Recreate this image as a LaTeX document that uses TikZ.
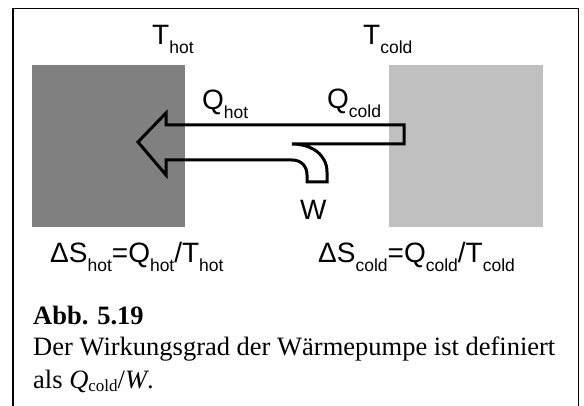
\documentclass[tikz,border=0pt]{standalone}
\usepackage{fontspec}
\setmainfont{Liberation Serif}
\newfontfamily\arialf{Liberation Sans}
\newcommand{\bigtxt}{\arialf\fontsize{28}{28}\selectfont}
\newcommand{\lowsub}[1]{\raisebox{-9pt}{\arialf\fontsize{17.5}{17.5}\selectfont #1}}
\begin{document}
\begin{tikzpicture}[x=1pt,y=-1pt,
  lab/.style={anchor=base west,inner sep=0pt,font=\bigtxt},
  captext/.style={anchor=base west,inner sep=0pt,font=\fontsize{26.5}{30}\selectfont},
  arrowline/.style={draw=black,line width=3pt,line join=miter}]
\useasboundingbox (0,0) rectangle (584,406);
% frame (open at the bottom)
\draw[line width=1.6pt] (12.7,406) -- (12.7,8.5) -- (578.5,8.5) -- (578.5,406);
% reservoirs
\fill[fill={rgb,255:red,128;green,128;blue,128}] (32,65) rectangle (185,227);
\fill[fill={rgb,255:red,192;green,192;blue,192}] (389,65) rectangle (543,227);
% heat-pump arrow
\draw[arrowline] (404,125) -- (166,125) -- (166,113) -- (138,142) -- (166,175) -- (166,160)
  -- (292,160) .. controls (301,160) and (307,166) .. (307,175) -- (307,182) -- (327,182)
  -- (327,172) .. controls (327,155) and (312,144) .. (292,144) -- (404,144) -- cycle;
% labels
\node[lab] (thot) at (152,45) {T\lowsub{hot}};
\node[lab] (tcold) at (363,45) {T\lowsub{cold}};
\node[lab] (qhot) at (202,110) {Q\lowsub{hot}};
\node[lab] (qcold) at (327,109) {Q\lowsub{cold}};
\node[lab] (w) at (300,220) {W};
\node[lab] (shot) at (50,263) {ΔS\lowsub{hot}=Q\lowsub{hot}/T\lowsub{hot}};
\node[lab] (scold) at (318,263) {ΔS\lowsub{cold}=Q\lowsub{cold}/T\lowsub{cold}};
% caption
\node[captext] (c1) at (33,324) {\textbf{Abb. 5.19}};
\node[captext] (c2) at (33,355) {Der Wirkungsgrad der Wärmepumpe ist definiert};
\node[captext] (c3) at (33,388) {als \textit{Q}\raisebox{-3pt}{\fontsize{17}{17}\selectfont cold}/\textit{W}.};
\end{tikzpicture}
\end{document}
